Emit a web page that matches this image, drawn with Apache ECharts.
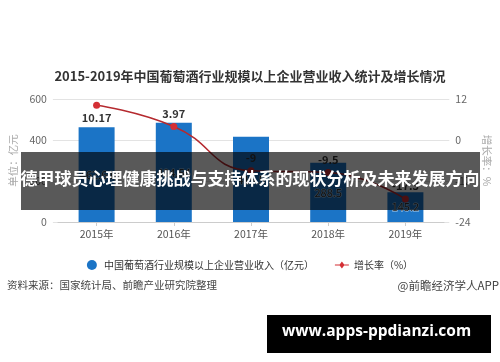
<!DOCTYPE html>
<html><head><meta charset="utf-8">
<script src="https://cdn.jsdelivr.net/npm/echarts@6/dist/echarts.min.js"></script>
<style>html,body{margin:0;padding:0;background:#fff}#c{width:500px;height:362px}</style>
</head><body><div id="c"></div>
<script>
const years = ['2015年','2016年','2017年','2018年','2019年'];
const revenue = [462.64, 484.54, 415.5, 288.5, 145.2];
const growth = [10.17, 3.97, -9, -9.5, -17.3];
const leftTicks = {min:0, max:600, interval:200};
const rightTicks = {min:-24, max:12, interval:12};
const titleText = '2015-2019年中国葡萄酒行业规模以上企业营业收入统计及增长情况';
const barName = '中国葡萄酒行业规模以上企业营业收入（亿元）';
const lineName = '增长率（%）';
const sourceText = '资料来源：国家统计局、前瞻产业研究院整理';
const creditText = '@前瞻经济学人APP';
const bannerText = '德甲球员心理健康挑战与支持体系的现状分析及未来发展方向';
const siteText = 'www.apps-ppdianzi.com';

const chart = echarts.init(document.getElementById('c'));
const font = '"Noto Sans CJK SC", "Noto Sans", sans-serif';
chart.setOption({
  animation:false,
  textStyle:{fontFamily:font},
  title:{text:titleText, left:'center', top:65, textStyle:{fontSize:13, fontWeight:'bold', color:'#333', fontFamily:font}},
  legend:{top:255, left:'center', itemGap:21, itemWidth:14, itemHeight:10,
    textStyle:{fontSize:10, color:'#333'},
    data:[{name:barName, icon:'circle'},
          {name:lineName, icon:'path://M0,3.5H16V4.5H0Z M8,0L11,4L8,8L5,4Z'}]},
  grid:[{left:50, right:47, top:99, bottom:140},
        {left:58, right:56, top:99, bottom:140}],
  xAxis:[
    {gridIndex:0, type:'value', min:0, max:1, show:false},
    {gridIndex:1, type:'category', data:years,
     axisLine:{show:true, lineStyle:{color:'#ccc'}},
     axisTick:{show:true, alignWithLabel:true, length:4, lineStyle:{color:'#ccc'}},
     axisLabel:{color:'#555', fontSize:10.5, margin:7}}
  ],
  yAxis:[
    {gridIndex:0, type:'value', min:leftTicks.min, max:leftTicks.max, interval:leftTicks.interval,
     name:'单位：亿元', nameLocation:'middle', nameGap:24, nameTextStyle:{color:'#aaa', fontSize:10.5},
     axisLine:{show:false}, axisTick:{show:false},
     axisLabel:{color:'#666', fontSize:10.5, margin:6},
     splitLine:{lineStyle:{color:'#e3e3e3'}}},
    {gridIndex:0, type:'value', position:'right', min:rightTicks.min, max:rightTicks.max, interval:rightTicks.interval,
     name:'增长率：%', nameLocation:'middle', nameGap:25, nameRotate:-90, nameTextStyle:{color:'#aaa', fontSize:10.5},
     axisLine:{show:false}, axisTick:{show:false},
     axisLabel:{color:'#666', fontSize:10.5, margin:6},
     splitLine:{show:false}},
    {gridIndex:1, type:'value', min:leftTicks.min, max:leftTicks.max, show:false},
    {gridIndex:1, type:'value', min:rightTicks.min, max:rightTicks.max, show:false}
  ],
  series:[
    {name:barName, type:'bar', xAxisIndex:1, yAxisIndex:2, data:revenue, barWidth:36,
     itemStyle:{color:'#1b74c6'},
     label:{show:true, position:'inside', color:'#333', fontSize:11, textBorderColor:'rgba(255,255,255,0.6)', textBorderWidth:1}},
    {name:lineName, type:'line', xAxisIndex:1, yAxisIndex:3, smooth:true,
     data:growth.map((v,i)=>({value:v, label:{position: i===0 ? 'bottom':'top'}})),
     symbol:'circle', symbolSize:7,
     lineStyle:{color:'#b52a2f', width:1.5},
     itemStyle:{color:'#d42f35'},
     label:{show:true, color:'#333', fontWeight:'bold', fontSize:11, distance:4}}
  ],
  graphic:[
    {type:'text', left:7, top:280, style:{text:sourceText, fill:'#444', font:'10.5px '+font}},
    {type:'text', right:1, top:280, style:{text:creditText, fill:'#444', font:'11.5px '+font}},
    {type:'rect', left:21, top:152, shape:{width:459, height:58}, style:{fill:'rgba(0,0,0,0.65)'}, z:100},
    {type:'text', left:'center', top:170, style:{text:bannerText, fill:'#fff', font:'bold 17px '+font}, z:101},
    {type:'rect', left:267, top:315, shape:{width:224, height:38}, style:{fill:'#000'}, z:100},
    {type:'text', left:282, top:324, style:{text:siteText, fill:'#fff', font:'bold 15.5px "Open Sans", "DejaVu Sans", sans-serif'}, z:101}
  ]
});
</script></body></html>
